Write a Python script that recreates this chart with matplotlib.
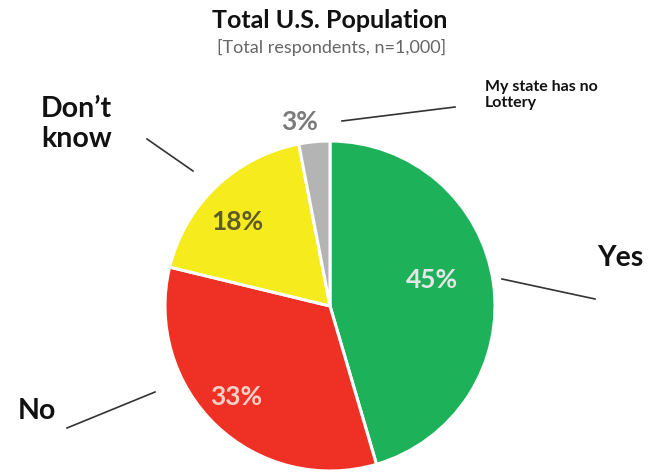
import matplotlib
matplotlib.use("Agg")
import matplotlib.pyplot as plt

W, H = 661, 472

categories = ["Yes", "No", "Don\u2019t\nknow", "My state has no\nLottery"]
shares = [45, 33, 18, 3]
colors = ["#1db15a", "#ee3124", "#f6eb1c", "#b4b4b4"]
pct_colors = ["#e6e6e6", "#f6d0c8", "#5e5a2c", "#7a7a7a"]

# pixel positions (from the top-left) for the percent texts and callouts
pct_pos = [(432, 280), (236, 397), (237, 222), (300, 122)]
label_pos = [(597, 258), (18, 411), (41, 124), (485, 95)]
label_size = [20.5, 20.5, 20.5, 11.5]
leader = [((502, 279), (595, 299)),
          ((155, 392), (67, 428)),
          ((147, 139), (193, 171)),
          ((342, 121), (455, 107))]

fig = plt.figure(figsize=(W / 100, H / 100), dpi=100)
ax = fig.add_axes([0, 0, 1, 1])

ax.pie(shares, colors=colors, startangle=90, counterclock=False,
       center=(330, H - 306), radius=165, frame=True,
       wedgeprops=dict(edgecolor="white", linewidth=2.2))

for val, (x, y), c in zip(shares, pct_pos, pct_colors):
    ax.text(x, H - y, f"{val}%", ha="center", va="center", color=c,
            fontsize=19, fontweight="bold", family="Lato")

for name, (x, y), fs in zip(categories, label_pos, label_size):
    ax.text(x, H - y, name, ha="left", va="center", color="#111111",
            fontsize=fs, fontweight="bold", family="Lato", linespacing=1.2)

for (x0, y0), (x1, y1) in leader:
    ax.plot([x0, x1], [H - y0, H - y1], color="#333333", lw=1.2)

ax.text(330, H - 21, "Total U.S. Population", ha="center", va="center",
        fontsize=18, fontweight="bold", family="Lato", color="#111111")
ax.text(332, H - 47, "[Total respondents, n=1,000]", ha="center", va="center",
        fontsize=13, family="Lato", color="#666666")

ax.set_xlim(0, W)
ax.set_ylim(0, H)
ax.set_aspect("equal")
ax.axis("off")

fig.savefig("out.png", dpi=100)
